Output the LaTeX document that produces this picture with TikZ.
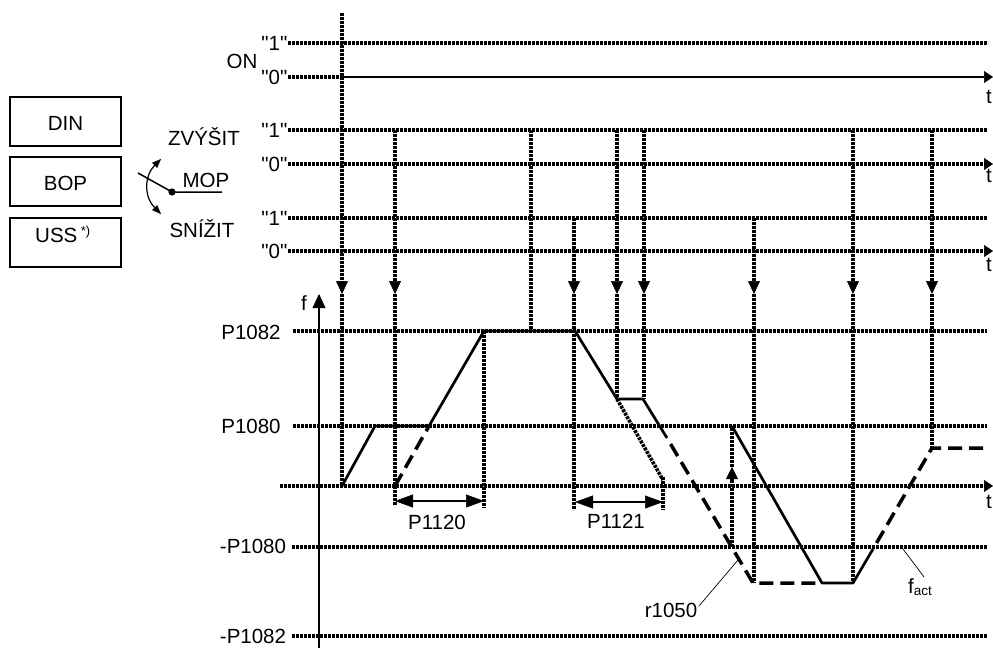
\documentclass[tikz,border=0pt]{standalone}
\usepackage{fontspec}
\setmainfont{Liberation Sans}
\font\qf="Liberation Sans" at 20.5pt
\usetikzlibrary{arrows.meta}
\begin{document}
\begin{tikzpicture}[x=1pt,y=-1pt,
  dotline/.style={line width=3.6pt, dash pattern=on 2.9pt off 1.1pt},
  solidline/.style={line width=2.7pt, line join=round},
  dashline/.style={line width=3.5pt, dash pattern=on 14pt off 7pt},
  thinline/.style={line width=1.3pt},
  txt/.style={font=\fontsize{20.5}{24}\selectfont, inner sep=0pt, anchor=base},
  lvl/.style={txt, anchor=base east},
  tlbl/.style={txt, anchor=base west},
  downtip/.style={-{Triangle[width=12pt,length=13pt,line width=0.5pt]}},
  endtip/.style={-{Triangle[width=12pt,length=9pt,line width=0.5pt]}},
  dimarr/.style={line width=1.4pt, {Triangle[width=13pt,length=18pt,line width=0.5pt]}-{Triangle[width=13pt,length=18pt,line width=0.5pt]}},
  srcbox/.style={draw, line width=1.3pt, minimum width=111pt, minimum height=49pt, inner sep=0pt},
  leader/.style={line width=0.7pt}
]
\useasboundingbox (0,0) rectangle (993,648);

% ---------- source boxes and switch ----------
\node[srcbox] (din) at (65.5,121.5) {};
\node[srcbox] (bop) at (65.5,181.5) {};
\node[srcbox] (uss) at (65.5,242.5) {};
\node[txt] (dintxt) at (65.5,130) {DIN};
\node[txt] (boptxt) at (65.5,190) {BOP};
\node[tlbl] (usstxt) at (35,242) {USS\,{\fontsize{13}{13}\selectfont\raisebox{7pt}{*)}}};

\coordinate (swa) at (138,173);
\coordinate (swp) at (172,192);
\coordinate (swb) at (222,192);
\draw[line width=1.5pt] (swa) -- (swp) -- (swb);
\fill (swp) circle (3.6);
\draw[line width=1.2pt, {Triangle[width=7pt,length=9pt,line width=0.3pt]}-{Triangle[width=7pt,length=9pt,line width=0.3pt]}]
  (161,159) .. controls (144,176) and (144,197) .. (161,214);
\node[txt] (zvy) at (204,145) {ZVÝŠIT};
\node[txt] (mop) at (206,187) {MOP};
\node[txt] (sni) at (202,237) {SNÍŽIT};
\node[txt] (on) at (242,68) {ON};

% ---------- level labels ----------
\node[lvl] (on1) at (287.5,50.5) {\qf "1"};
\node[lvl] (on0) at (287.5,84.5) {\qf "0"};
\node[lvl] (z1) at (287.5,137.5) {\qf "1"};
\node[lvl] (z0) at (287.5,171.5) {\qf "0"};
\node[lvl] (s1) at (287.5,225.5) {\qf "1"};
\node[lvl] (s0) at (287.5,258.5) {\qf "0"};

\node[tlbl] (t1) at (986,103) {t};
\node[tlbl] (t2) at (986,182) {t};
\node[tlbl] (t3) at (986,271) {t};
\node[tlbl] (t4) at (986,508) {t};

% ---------- horizontal grid lines ----------
\draw[dotline] (288,43) -- (988,43);
\draw[dotline] (288,77) -- (342,77);
\draw[thinline, endtip] (342,77) -- (993,77);
\draw[dotline] (288,130) -- (987,130);
\draw[dotline, endtip] (288,164) -- (993,164);
\draw[dotline] (288,218) -- (987,218);
\draw[dotline, endtip] (288,251) -- (993,251);

\draw[dotline] (293,331) -- (987,331);
\draw[dotline] (293,426) -- (987,426);
\draw[dotline, endtip] (280,486) -- (993,486);
\draw[dotline] (292,547) -- (987,547);
\draw[dotline] (292,636) -- (987,636);

% ---------- f axis ----------
\draw[line width=2pt, -{Triangle[width=13pt,length=14pt,line width=0.5pt]}] (319,648) -- (319,294);
\node[txt] (f) at (304,310) {f};
\node[txt] (p1082) at (251,339) {P1082};
\node[txt] (p1080) at (251,433) {P1080};
\node[txt] (mp1080) at (253,553) {-P1080};
\node[txt] (mp1082) at (253,643) {-P1082};

% ---------- vertical event lines ----------
\foreach \x/\top/\bot in {342/13/486, 395/130/505, 574/218/510, 617/130/399, 644/130/399, 754/218/583, 853/130/583, 932/130/448}{
  \draw[dotline, downtip] (\x,\top) -- (\x,294);
  \draw[dotline] (\x,294) -- (\x,\bot);
}
\draw[dotline] (531,130) -- (531,331);
\draw[dotline] (484,331) -- (484,508);
\draw[dotline] (663,477) -- (663,510);
\draw[dotline, -{Triangle[width=12pt,length=12pt,line width=0.5pt]}] (732,547) -- (732,467);
\draw[dotline] (732,467) -- (732,426);

% ---------- frequency curves ----------
\draw[solidline] (342,486) -- (375,426) -- (429,426);
\draw[dashline] (395,486) -- (429,426);
\draw[solidline] (429,426) -- (484,331) -- (575,331) -- (617,399) -- (643,399) -- (667,438);
\draw[dotline] (617,399) -- (663,480);
\draw[dashline, dash phase=14pt, line join=round] (667,438) -- (753,583) -- (822,583);
\draw[solidline] (732,426) -- (822,583) -- (853,583) -- (873,549);
\draw[dashline, dash phase=14pt, line join=round] (873,549) -- (932,448) -- (987,448);

% ---------- ramp time dimensions ----------
\draw[dimarr] (395,501) -- (484,501);
\node[txt] (p1120) at (437,529) {P1120};
\draw[dimarr] (575,502) -- (663,502);
\node[txt] (p1121) at (616,528) {P1121};

% ---------- leaders ----------
\node[txt] (r1050) at (671,617) {r1050};
\draw[leader] (699,606) -- (738,560);
\node[tlbl] (fact) at (908,593) {f{\fontsize{13.5}{14}\selectfont\raisebox{-2.5pt}{act}}};
\draw[leader] (903,549) -- (924,577);
\end{tikzpicture}
\end{document}
